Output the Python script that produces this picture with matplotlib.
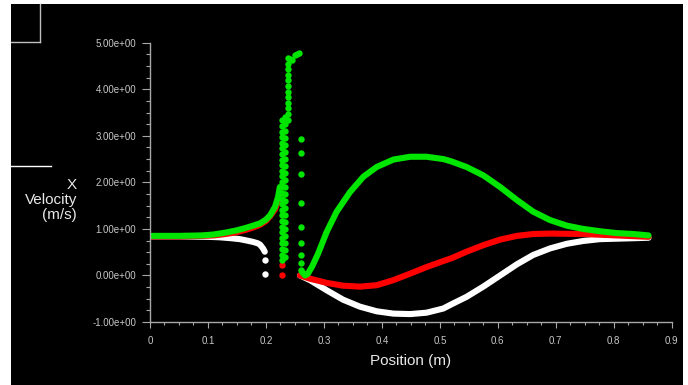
import matplotlib
matplotlib.use('Agg')
import matplotlib.pyplot as plt
from matplotlib.lines import Line2D
from matplotlib.patches import Rectangle
from matplotlib.ticker import MultipleLocator, FormatStrFormatter

# ---- data (position in m, x velocity in m/s) ----
white_in_x = [0.0, 0.05, 0.10, 0.12, 0.14, 0.155, 0.167, 0.178, 0.186, 0.19, 0.195, 0.198]
white_in_v = [0.84, 0.84, 0.83, 0.82, 0.80, 0.78, 0.75, 0.72, 0.69, 0.66, 0.58, 0.51]
white_pts_x = [0.199, 0.199]
white_pts_v = [0.33, 0.03]
white_out_x = [0.2588, 0.276, 0.305, 0.333, 0.362, 0.391, 0.420, 0.449, 0.477, 0.506, 0.520,
               0.546, 0.575, 0.604, 0.633, 0.661, 0.690, 0.719, 0.747, 0.776, 0.805, 0.834, 0.860]
white_out_v = [0.0, -0.10, -0.32, -0.52, -0.67, -0.77, -0.82, -0.83, -0.80, -0.71, -0.62,
               -0.46, -0.24, 0.0, 0.24, 0.44, 0.58, 0.68, 0.74, 0.78, 0.79, 0.80, 0.81]

red_in_x = [0.0, 0.05, 0.09, 0.11, 0.13, 0.15, 0.165, 0.178, 0.19, 0.20, 0.207, 0.2156, 0.221, 0.224]
red_in_v = [0.84, 0.84, 0.85, 0.86, 0.89, 0.93, 0.98, 1.03, 1.09, 1.17, 1.27, 1.42, 1.60, 1.80]
red_pts_x = [0.2285, 0.2285]
red_pts_v = [0.22, 0.02]
red_out_x = [0.2588, 0.276, 0.305, 0.333, 0.362, 0.391, 0.420, 0.449, 0.477, 0.506, 0.520,
             0.546, 0.575, 0.604, 0.633, 0.661, 0.690, 0.747, 0.805, 0.860]
red_out_v = [0.0, -0.07, -0.16, -0.22, -0.24, -0.21, -0.10, 0.04, 0.18, 0.31, 0.37,
             0.51, 0.65, 0.77, 0.85, 0.89, 0.90, 0.89, 0.86, 0.83]

green_in_x = [0.0, 0.05, 0.09, 0.11, 0.13, 0.15, 0.165, 0.178, 0.19, 0.20, 0.207, 0.2156, 0.221, 0.224]
green_in_v = [0.85, 0.85, 0.86, 0.88, 0.92, 0.97, 1.02, 1.07, 1.12, 1.20, 1.29, 1.47, 1.69, 1.90]
# dense column of cells at the spike
green_spike_x = ([0.2285] * 26 + [0.2335] * 21 + [0.2375] * 12
                 + [0.2415, 0.2444, 0.250, 0.254, 0.2576])
green_spike_v = ([0.33, 0.45, 0.57, 0.69, 0.81, 0.93, 1.05, 1.17, 1.29, 1.41, 1.53, 1.65, 1.77,
                  1.89, 2.01, 2.13, 2.25, 2.37, 2.49, 2.61, 2.73, 2.85, 2.97, 3.09, 3.21, 3.33]
                 + [0.40, 0.55, 0.70, 0.85, 1.00, 1.15, 1.30, 1.45, 1.60, 1.75, 1.90, 2.05, 2.20,
                    2.35, 2.50, 2.65, 2.80, 2.95, 3.10, 3.25, 3.40]
                 + [3.35, 3.47, 3.59, 3.71, 3.83, 3.95, 4.07, 4.19, 4.31, 4.43, 4.55, 4.67]
                 + [4.64, 4.62, 4.73, 4.76, 4.78])
green_col_x = [0.2606] * 9
green_col_v = [2.94, 2.62, 2.19, 1.55, 1.04, 0.69, 0.44, 0.26, 0.12]
green_out_x = [0.262, 0.2674, 0.272, 0.280, 0.290, 0.305, 0.322, 0.345, 0.368, 0.391, 0.420,
               0.449, 0.477, 0.506, 0.520, 0.546, 0.575, 0.604, 0.633, 0.661, 0.690, 0.719,
               0.747, 0.776, 0.805, 0.834, 0.860]
green_out_v = [0.08, 0.0, 0.03, 0.20, 0.47, 0.94, 1.37, 1.79, 2.12, 2.33, 2.49,
               2.55, 2.55, 2.50, 2.45, 2.33, 2.15, 1.90, 1.62, 1.37, 1.19, 1.07,
               1.00, 0.95, 0.91, 0.89, 0.86]

WHITE = '#ffffff'
RED = '#ff0000'
GREEN = '#00e600'
AXIS_GREY = '#a8a8a8'

plt.rcParams['font.family'] = ['Liberation Sans', 'DejaVu Sans']

fig = plt.figure(figsize=(6.88, 3.85), dpi=100, facecolor='black')
ax = fig.add_axes([150 / 688, 63 / 385, 521.7 / 688, 279.3 / 385])
ax.set_facecolor('black')

lw = 4.4
ms = 4.6
line_kw = dict(lw=lw, solid_capstyle='round', solid_joinstyle='round')
for cx, cv, px, pv, ox, ov, col in [
        (white_in_x, white_in_v, white_pts_x, white_pts_v, white_out_x, white_out_v, WHITE),
        (red_in_x, red_in_v, red_pts_x, red_pts_v, red_out_x, red_out_v, RED)]:
    ax.plot(cx, cv, '-', color=col, **line_kw)
    ax.plot(px, pv, 'o', color=col, ms=ms, mec='none')
    ax.plot(ox, ov, '-', color=col, **line_kw)

ax.plot(green_in_x, green_in_v, '-', color=GREEN, **line_kw)
ax.plot(green_spike_x, green_spike_v, 'o', color=GREEN, ms=ms, mec='none')
ax.plot(green_col_x, green_col_v, 'o', color=GREEN, ms=ms, mec='none')
ax.plot(green_out_x, green_out_v, '-', color=GREEN, **line_kw)

ax.set_xlim(0, 0.9)
ax.set_ylim(-1, 5)
for s in ['top', 'right']:
    ax.spines[s].set_visible(False)
for s in ['left', 'bottom']:
    ax.spines[s].set_color(AXIS_GREY)
    ax.spines[s].set_linewidth(1.0)

ax.xaxis.set_minor_locator(MultipleLocator(0.025))
ax.yaxis.set_major_locator(MultipleLocator(1))
ax.yaxis.set_minor_locator(MultipleLocator(0.25))
ax.yaxis.set_major_formatter(FormatStrFormatter('%.2e'))
ax.set_xticks([0, 0.1, 0.2, 0.3, 0.4, 0.5, 0.6, 0.7, 0.8, 0.9])
ax.set_xticklabels(['0', '0.1', '0.2', '0.3', '0.4', '0.5', '0.6', '0.7', '0.8', '0.9'])

ax.tick_params(axis='both', which='both', colors=AXIS_GREY, labelcolor='#c8c8c8',
               labelsize=7, width=0.8)
ax.tick_params(axis='y', which='major', length=6, pad=4)
ax.tick_params(axis='y', which='minor', length=3)
ax.tick_params(axis='x', which='major', length=4, pad=6)
ax.tick_params(axis='x', which='minor', length=2)

ax.set_xlabel('Position (m)', color='#e8e8e8', fontsize=11, labelpad=6)
fig.text(77 / 688, 1 - 200 / 385, 'X\nVelocity\n(m/s)', color='#e8e8e8', fontsize=11,
         ha='right', va='center', multialignment='right', linespacing=1.05)

# white page strips around the screenshot
fig.add_artist(Rectangle((0, 0), 11 / 688, 1, transform=fig.transFigure,
                         facecolor='white', edgecolor='none'))
fig.add_artist(Rectangle((683 / 688, 0), 5 / 688, 1, transform=fig.transFigure,
                         facecolor='white', edgecolor='none'))
fig.add_artist(Rectangle((0, 1 - 4 / 385), 1, 4 / 385, transform=fig.transFigure,
                         facecolor='white', edgecolor='none'))

# leftover window lines at top left
fig.add_artist(Line2D([40 / 688, 40 / 688], [1 - 4 / 385, 1 - 42 / 385],
                      transform=fig.transFigure, color='#c0c0c0', lw=1))
fig.add_artist(Line2D([11 / 688, 40 / 688], [1 - 42 / 385, 1 - 42 / 385],
                      transform=fig.transFigure, color='#c0c0c0', lw=1))
fig.add_artist(Line2D([11 / 688, 51 / 688], [1 - 165.5 / 385, 1 - 165.5 / 385],
                      transform=fig.transFigure, color='white', lw=1))

fig.savefig('out.png', dpi=100, facecolor='black')
